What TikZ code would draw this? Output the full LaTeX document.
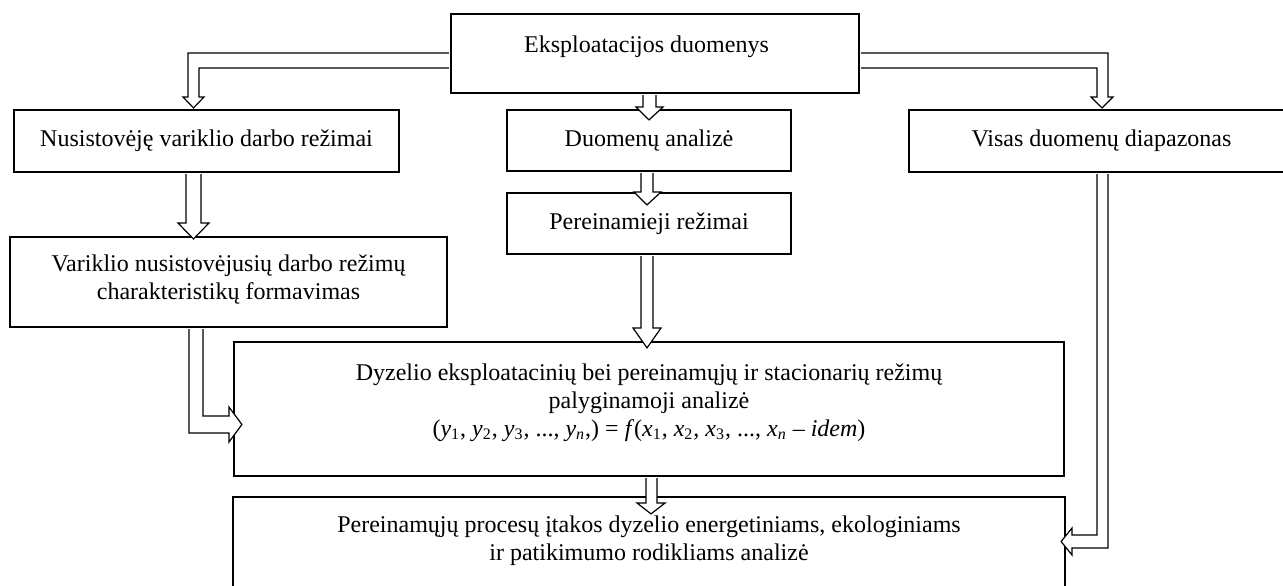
\documentclass[tikz,border=0pt]{standalone}
\usepackage{fontspec}
\setmainfont{Liberation Serif}
\usepackage{tikz}
\usetikzlibrary{calc,backgrounds}
\newcommand{\vy}[1]{\textit{y}\textsubscript{#1}}
\newcommand{\vx}[1]{\textit{x}\textsubscript{#1}}
\tikzset{
  box/.style={draw=black,line width=1.1pt,fill=white,inner sep=0pt,align=center,font=\fontsize{12}{13.85}\selectfont},
  hollow/.style={draw=black,line width=.6pt,fill=white,line join=miter},
}
\begin{document}
\begin{tikzpicture}[x=0.5pt,y=-0.5pt]
  \path[use as bounding box] (0,0) rectangle (1283,585);
  \clip (0,0) rectangle (1283,585);
  \node[box,minimum width=204pt,minimum height=39.5pt,text depth=9.6pt] (data) at (655,53.5) {Eksploatacijos duomenys\hspace*{8.5pt}};
  \node[box,minimum width=192.5pt,minimum height=31pt] (steady) at (206.5,141) {Nusistovėję variklio darbo režimai};
  \node[box,minimum width=142pt,minimum height=30.5pt] (analysis) at (649,140.5) {Duomenų analizė};
  \node[box,minimum width=192.5pt,minimum height=31pt] (range) at (1101.5,141) {Visas duomenų diapazonas};
  \node[box,minimum width=142pt,minimum height=30.5pt] (transient) at (649,223.5) {Pereinamieji režimai};
  \node[box,minimum width=218.5pt,minimum height=45pt,text depth=5pt] (charact) at (228.5,282) {Variklio nusistovėjusių darbo režimų\\charakteristikų formavimas};
  \node[box,minimum width=415pt,minimum height=67pt,text depth=9pt] (compare) at (649,409) {Dyzelio eksploatacinių bei pereinamųjų ir stacionarių režimų\\palyginamoji analizė\\(\vy{1}, \vy{2}, \vy{3}, ..., \vy{\textit{n}},) = \textit{f}(\vx{1}, \vx{2}, \vx{3}, ..., \vx{\textit{n}} – \textit{idem})};
  \node[box,draw=none,fill=none,minimum width=415pt,minimum height=57pt,text depth=16.5pt] (impact) at (649,555) {Pereinamųjų procesų įtakos dyzelio energetiniams, ekologiniams\\ir patikimumo rodikliams analizė};
  % block arrows
  \draw[hollow] ($(data.west |- 0,53)+(-1,0)$) -- (188,53) -- (188,97) -- (183,97) -- ($(193.5,0 |- steady.north)+(0,-1)$) -- (204,97) -- (199,97) -- (199,68) -- ($(data.west |- 0,68)+(-1,0)$);
  \draw[hollow] ($(data.east |- 0,53)+(1,0)$) -- (1108,53) -- (1108,97) -- (1113,97) -- ($(1102,0 |- range.north)+(0,-1)$) -- (1091,97) -- (1097,97) -- (1097,68) -- ($(data.east |- 0,68)+(1,0)$);
  \draw[hollow] ($(643,0 |- data.south)+(0,1)$) -- (643,107) -- (636,107) -- ($(649,0 |- analysis.north)+(0,11)$) -- (663,107) -- (656,107) -- ($(656,0 |- data.south)+(0,1)$);
  \draw[hollow] ($(641,0 |- analysis.south)+(0,1)$) -- (641,192) -- (634,192) -- ($(647,0 |- transient.north)+(0,13)$) -- (661,192) -- (653,192) -- ($(653,0 |- analysis.south)+(0,1)$);
  \draw[hollow] ($(641,0 |- transient.south)+(0,1)$) -- (641,328) -- (633,328) -- ($(647,0 |- compare.north)+(0,7)$) -- (661,328) -- (653,328) -- ($(653,0 |- transient.south)+(0,1)$);
  \draw[hollow] ($(186,0 |- steady.south)+(0,1)$) -- (186,223) -- (178,223) -- ($(193.5,0 |- charact.north)+(0,3)$) -- (209,223) -- (201,223) -- ($(201,0 |- steady.south)+(0,1)$);
  \draw[hollow] ($(189,0 |- charact.south)+(0,1)$) -- (189,433) -- (229,433) -- (229,442) -- ($(compare.west |- 0,424.5)+(9,0)$) -- (229,407) -- (229,416) -- (203,416) -- ($(203,0 |- charact.south)+(0,1)$);
  \draw[hollow] ($(1097,0 |- range.south)+(0,1)$) -- (1097,535) -- (1072,535) -- (1072,528) -- ($(impact.east |- 0,541.5)+(-4,0)$) -- (1072,555) -- (1072,548) -- (1108,548) -- ($(1108,0 |- range.south)+(0,1)$);
  \begin{scope}[on background layer]
    \draw[line width=1.1pt] (impact.north west) rectangle (impact.south east);
    \draw[hollow] ($(646,0 |- compare.south)+(0,1)$) -- (646,503) -- (637,503) -- ($(651,0 |- impact.north)+(0,17)$) -- (665,503) -- (657,503) -- ($(657,0 |- compare.south)+(0,1)$);
  \end{scope}
\end{tikzpicture}
\end{document}
